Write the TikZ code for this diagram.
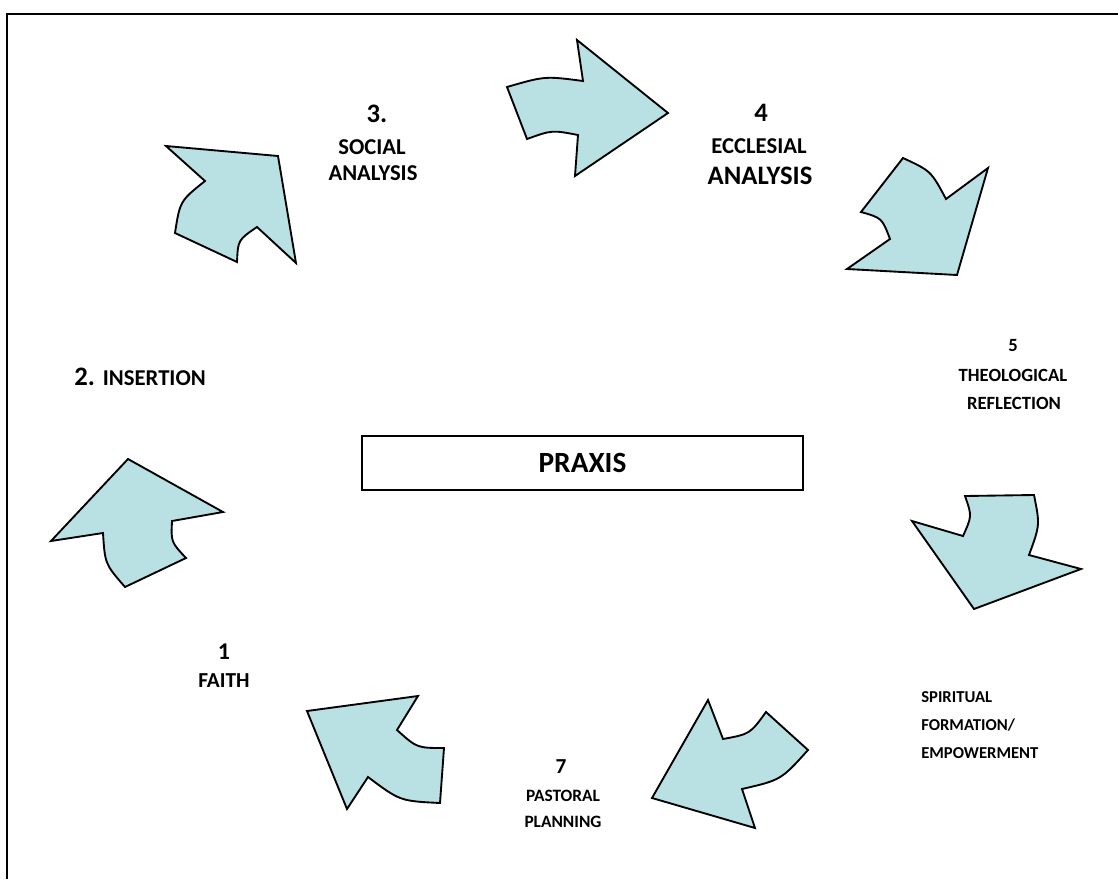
\documentclass[tikz,border=0pt]{standalone}
\usepackage{fontspec}
\setmainfont{Carlito}
\definecolor{arrowfill}{RGB}{185,224,227}
\newcommand{\fsz}[1]{\bfseries\fontsize{#1}{#1}\selectfont}
\tikzset{
  cyclearrow/.style={draw=black, fill=arrowfill, line width=1.4pt, line join=miter},
  lbl/.style={inner sep=0pt},
  praxisbox/.style={draw=black, line width=1.3pt, minimum width=441*0.75pt, minimum height=54*0.75pt, inner sep=0pt, font=\fsz{22}}
}
\begin{document}
\begin{tikzpicture}[x=0.75pt,y=-0.75pt]
\useasboundingbox (0,0) rectangle (1118,879);
% frame
\coordinate (fbl) at (7,879);
\coordinate (ftl) at (7,14);
\coordinate (ftr) at (1118,14);
\draw[line width=1.6pt] (fbl) -- (ftl) -- (ftr);

% arrow 1 (faith -> insertion)
\draw[cyclearrow] (128,459) -- (223,512) -- (172,521) .. controls (171,542) .. (186,558)
  -- (125,587) .. controls (105,564) .. (103,533) -- (51,541) -- cycle;
% arrow 2 (insertion -> social analysis)
\draw[cyclearrow] (166,146) -- (278,156) -- (296,263) -- (257,227) .. controls (238,240) .. (237,262)
  -- (175,233) .. controls (180,201) .. (205,181) -- cycle;
% arrow 3 (social -> ecclesial)
\draw[cyclearrow] (668,113) -- (577,40) -- (583,81) .. controls (545,76) .. (507,87)
  -- (527,139) .. controls (552,130) .. (578,135) -- (575,176) -- cycle;
% arrow 4 (ecclesial -> theological)
\draw[cyclearrow] (903,158) .. controls (931,171) .. (946,199) -- (988,168) -- (957,275)
  -- (847,269) -- (890,239) .. controls (882,218) .. (861,212) -- cycle;
% arrow 5 (theological -> spiritual)
\draw[cyclearrow] (965,496) -- (1034,495) .. controls (1040,525) .. (1029,555) -- (1081,569)
  -- (974,609) -- (912,521) -- (963,536) .. controls (972,516) .. cycle;
% arrow 6 (spiritual -> pastoral)
\draw[cyclearrow] (708,700) -- (723,739) .. controls (750,734) .. (766,712) -- (808,750)
  .. controls (781,780) .. (742,789) -- (755,828) -- (652,798) -- cycle;
% arrow 7 (pastoral -> faith)
\draw[cyclearrow] (418,696) -- (397,730) .. controls (417,748) .. (444,748) -- (440,803)
  .. controls (400,801) .. (368,777) -- (347,809) -- (307,711) -- cycle;

% labels
\node[lbl, font=\fsz{20}] (n3) at (377,114) {3.};
\node[lbl, font=\fsz{17}] (n3a) at (372,147) {SOCIAL};
\node[lbl, font=\fsz{17}] (n3b) at (373,173) {ANALYSIS};

\node[lbl, font=\fsz{20}] (n4) at (761,113) {4};
\node[lbl, font=\fsz{17}] (n4a) at (759,146) {ECCLESIAL};
\node[lbl, font=\fsz{20}] (n4b) at (760,176) {ANALYSIS};

\node[lbl, font=\fsz{14}] (n5) at (1013,346) {5};
\node[lbl, font=\fsz{14}] (n5a) at (1013,375) {THEOLOGICAL};
\node[lbl, font=\fsz{14}] (n5b) at (1014,403) {REFLECTION};

\node[lbl, anchor=west] (n2) at (74,377) {\fsz{20}2. \fsz{17}INSERTION};

\node[lbl, font=\fsz{18}] (n1) at (224,652) {1};
\node[lbl, font=\fsz{16}] (n1a) at (224,681) {FAITH};

\node[lbl, anchor=west, font=\fsz{12.5}] (n6a) at (921,697) {SPIRITUAL};
\node[lbl, anchor=west, font=\fsz{12.5}] (n6b) at (921,725) {FORMATION/};
\node[lbl, anchor=west, font=\fsz{12.5}] (n6c) at (921,753) {EMPOWERMENT};

\node[lbl, font=\fsz{16}] (n7) at (561,767) {7};
\node[lbl, font=\fsz{13}] (n7a) at (563,796) {PASTORAL};
\node[lbl, font=\fsz{13}] (n7b) at (563,822) {PLANNING};

\node[praxisbox] (praxis) at (582.5,463) {PRAXIS};
\end{tikzpicture}
\end{document}
